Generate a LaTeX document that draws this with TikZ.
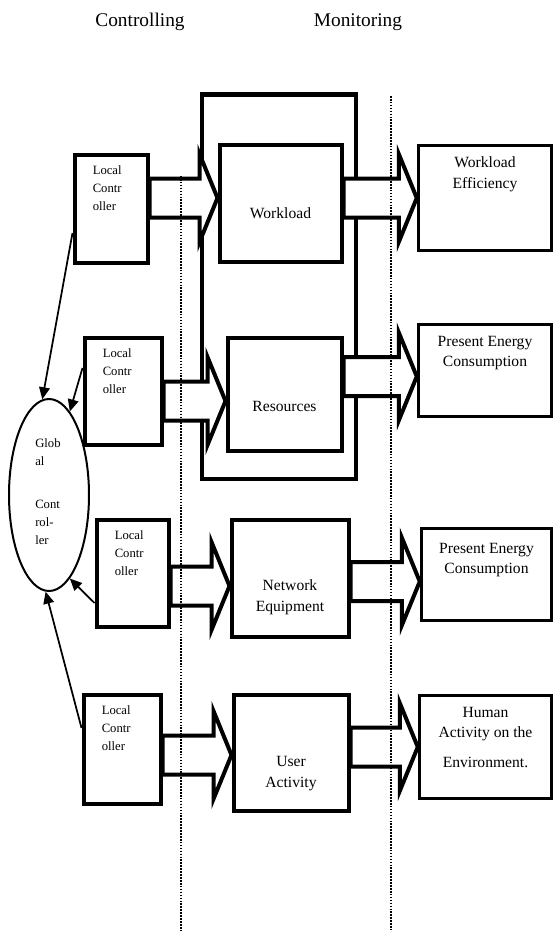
\documentclass[tikz,border=0pt]{standalone}
\usepackage{fontspec}
\setmainfont{Liberation Serif}
\usetikzlibrary{shapes.geometric,arrows.meta,positioning,calc}

% block arrow sizes (px)
\newcommand{\fashaft}{19.5}
\newcommand{\fahead}{44}
\newcommand{\falen}{18}
% block arrow from box #2 to box #3, shifted by #1
\newcommand{\fatarrow}[3][0]{%
  \path ($(#2.east |- #3.west)+(0,#1)$) coordinate (fa-s)
        ($(#3.west)+(0,#1)$) coordinate (fa-t);
  \draw[fatarr] ($(fa-s)+(0,-\fashaft)$) -- ($(fa-t)+(-\falen,-\fashaft)$)
    -- ($(fa-t)+(-\falen,-\fahead)$) -- (fa-t) -- ($(fa-t)+(-\falen,\fahead)$)
    -- ($(fa-t)+(-\falen,\fashaft)$) -- ($(fa-s)+(0,\fashaft)$) -- cycle;}

\begin{document}
\begin{tikzpicture}[x=0.75pt, y=-0.75pt,
  sz/.style 2 args={minimum width=#1*0.75pt, minimum height=#2*0.75pt},
  box/.style={rectangle, draw, line width=3pt, inner sep=0pt},
  outbox/.style={box, line width=2.6pt},
  lctxt/.style={font=\fontsize{9.5}{13.5}\selectfont, align=left, inner sep=0pt, anchor=north west},
  txt/.style={font=\fontsize{11.7}{15.5}\selectfont, align=center, inner sep=0pt},
  ttl/.style={font=\fontsize{14.5}{17}\selectfont, inner sep=0pt},
  fatarr/.style={draw, fill=white, line width=3pt, line join=miter},
  link/.style={line width=1.3pt, -{Triangle[length=9pt,width=8pt]}},
  sep/.style={densely dotted, line width=1.2pt}
]
\useasboundingbox (0,0) rectangle (555,949);

% headings
\node[ttl] (ctl) at (140,22) {Controlling};
\node[ttl] (mon) at (358,22) {Monitoring};

% local controllers
\node[box, sz={73}{108}] (lc1) at (111,208.5) {};
\node[box, sz={77}{107}] (lc2) at (123,391) {};
\node[box, sz={72}{107}] (lc3) at (132.5,573) {};
\node[box, sz={77}{109}] (lc4) at (122,749) {};
\node[lctxt] (lc1t) at ($(lc1.north west)+(20,13)$) {Local\\Contr\\oller};
\node[lctxt] (lc2t) at ($(lc2.north west)+(20,13)$) {Local\\Contr\\oller};
\node[lctxt] (lc3t) at ($(lc3.north west)+(20,13)$) {Local\\Contr\\oller};
\node[lctxt] (lc4t) at ($(lc4.north west)+(20,13)$) {Local\\Contr\\oller};

% global controller
\node[draw, ellipse, line width=1.5pt, inner sep=0pt, sz={80}{192}] (gc) at (49,495) {};
\node[lctxt] (gct) at ($(gc.center)+(-14,-57)$) {Glob\\al\\[19pt]Cont\\rol-\\ler};

% managed parts
\node[box, sz={154}{384}] (grp) at (278.5,286.5) {};
\node[box, sz={122}{117}] (wl) at (280.5,203) {};
\node[box, sz={114}{113}] (res) at (284.5,394) {};
\node[box, sz={117}{117}] (ne) at (290,578) {};
\node[box, sz={115}{116}] (ua) at (291,752.5) {};
\node[txt] (wlt) at ($(wl.center)+(0,10)$) {Workload};
\node[txt] (rest) at ($(res.center)+(0,12)$) {Resources};
\node[txt] (net) at ($(ne.center)+(0,19)$) {Network\\Equipment};
\node[txt] (uat) at ($(ua.center)+(0,21)$) {User\\Activity};

% monitored values
\node[outbox, sz={133}{105}] (we) at (485,198) {};
\node[outbox, sz={133}{92}] (pec1) at (485,370.5) {};
\node[outbox, sz={130}{92}] (pec2) at (486.5,574.5) {};
\node[outbox, sz={132}{103}] (hae) at (485.5,747) {};
\node[txt, anchor=north] (wet) at ($(we.north)+(0,13)$) {Workload\\Efficiency};
\node[txt, anchor=north] (pec1t) at ($(pec1.north)+(0,13)$) {Present Energy\\Consumption};
\node[txt, anchor=north] (pec2t) at ($(pec2.north)+(0,16)$) {Present Energy\\Consumption};
\node[txt, anchor=north] (haet) at ($(hae.north)+(0,13)$) {Human\\Activity on the\\[7pt]Environment.};

% block arrows
\fatarrow[-5]{lc1}{wl}
\fatarrow{wl}{we}
\fatarrow[7]{lc2}{res}
\fatarrow[6]{res}{pec1}
\fatarrow[8]{lc3}{ne}
\fatarrow[7]{ne}{pec2}
\fatarrow[2.5]{lc4}{ua}
\fatarrow{ua}{hae}

% links to the global controller
\draw[link] ([yshift=-18.4pt]lc1.west) -- (gc.94);
\draw[link] ([yshift=17.3pt]lc2.west) -- (gc.76);
\draw[link] ([yshift=-22.5pt]lc3.west) -- (gc.-76);
\draw[link] ([yshift=15.8pt]lc4.west) -- (gc.-92);

% dividers
\coordinate (sepL1) at (181,176);
\coordinate (sepL2) at (181,930);
\coordinate (sepR1) at (391,96);
\coordinate (sepR2) at (391,930);
\draw[sep] (sepL1) -- (sepL2);
\draw[sep] (sepR1) -- (sepR2);
\end{tikzpicture}
\end{document}
